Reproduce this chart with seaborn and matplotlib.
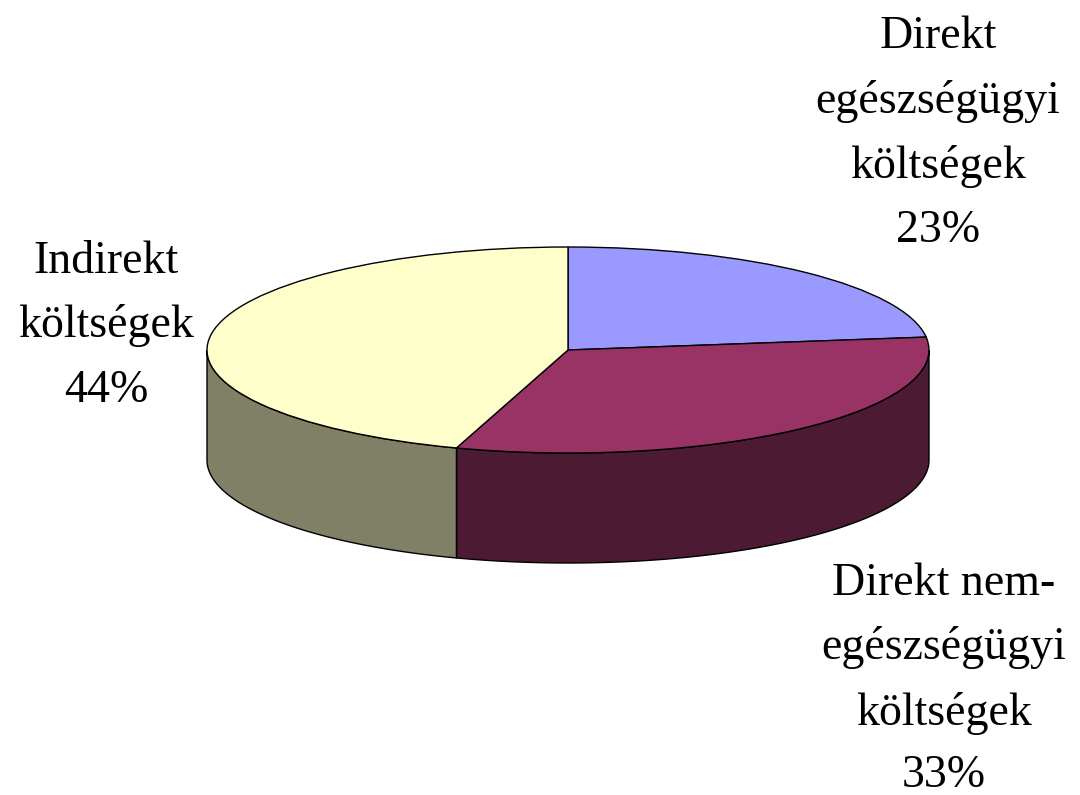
import numpy as np
import matplotlib
matplotlib.use('Agg')
import matplotlib.pyplot as plt
import seaborn as sns

# slice sizes, printed labels differ a little
slice_shares = [23, 32, 45]
slice_colors = ['#9999FF', '#993366', '#FFFFCC']
wall_colors = ['#4D4D80', '#4C1A33', '#808066']

label_lines = [
    ['Direkt', 'egészségügyi', 'költségek', '23%'],
    ['Direkt nem-', 'egészségügyi', 'költségek', '33%'],
    ['Indirekt', 'költségek', '44%'],
]
label_x = [938, 944, 106]
label_baselines = [
    [48, 113, 178, 242],
    [595, 659, 725, 787],
    [273, 337, 402],
]

W, H = 1080, 795
CX, CY = 568, 350
RX, RY = 361, 103
DEPTH = 110 / RY

sns.set_style('white')
plt.rcParams['font.family'] = ['Liberation Serif', 'DejaVu Serif']

fig = plt.figure(figsize=(W / 100, H / 100), dpi=100)
ax = fig.add_axes([0, 0, 1, 1])

# side walls, only the front half of the cylinder is visible
edges = 90 - 360 * np.cumsum([0] + slice_shares) / sum(slice_shares)
for i in range(len(slice_shares)):
    t1 = max(edges[i + 1], -180)
    t2 = min(edges[i], 0)
    if t1 >= t2:
        continue
    t = np.radians(np.linspace(t1, t2, 120))
    xs = np.cos(t)
    ys = np.sin(t)
    ax.fill(np.r_[xs, xs[::-1]], np.r_[ys, ys[::-1] - DEPTH],
            facecolor=wall_colors[i], edgecolor='black', linewidth=1)

ax.pie(slice_shares, colors=slice_colors, startangle=90, counterclock=False,
       radius=1, wedgeprops={'edgecolor': 'black', 'linewidth': 1})

ax.set_aspect('auto')
ax.set_xlim(-CX / RX, (W - CX) / RX)
ax.set_ylim((CY - H) / RY, CY / RY)
ax.axis('off')

for lines, x, baselines in zip(label_lines, label_x, label_baselines):
    for line, y in zip(lines, baselines):
        fig.text(x / W, 1 - y / H, line, fontsize=33, ha='center', va='baseline',
                 color='black')

fig.savefig('out.png', dpi=100)
